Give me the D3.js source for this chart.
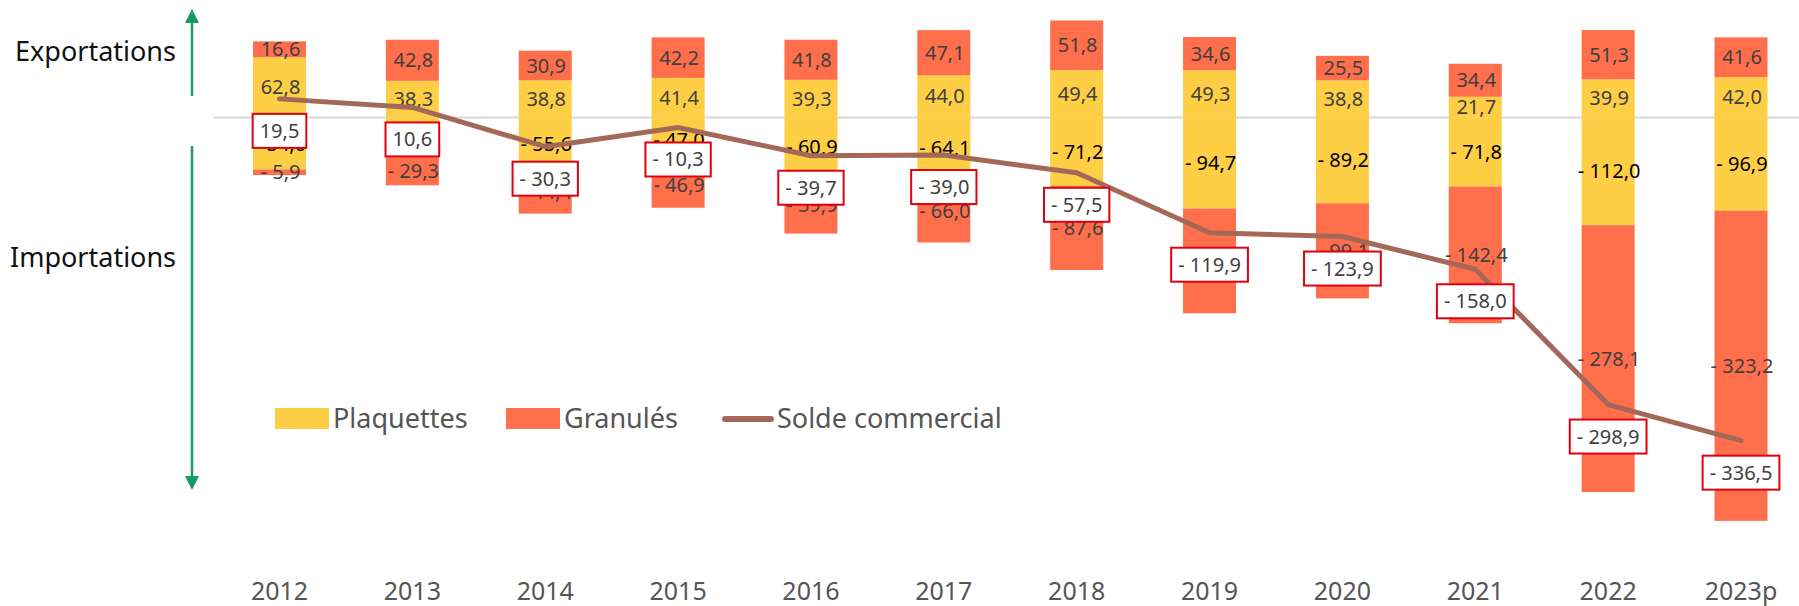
<!DOCTYPE html>
<html>
<head>
<meta charset="utf-8">
<script src="https://cdn.jsdelivr.net/npm/d3@7"></script>
<style>
  body { margin: 0; background: #fff; }
  svg { display: block; font-family: "Noto Sans", sans-serif; }
</style>
</head>
<body>
<script>
var years = ["2012", "2013", "2014", "2015", "2016", "2017", "2018", "2019", "2020", "2021", "2022", "2023p"];
var plaquettesExp = [62.8, 38.3, 38.8, 41.4, 39.3, 44.0, 49.4, 49.3, 38.8, 21.7, 39.9, 42.0];
var granulesExp = [16.6, 42.8, 30.9, 42.2, 41.8, 47.1, 51.8, 34.6, 25.5, 34.4, 51.3, 41.6];
var plaquettesImp = [-54.0, -41.2, -55.6, -47.0, -60.9, -64.1, -71.2, -94.7, -89.2, -71.8, -112.0, -96.9];
var granulesImp = [-5.9, -29.3, -44.4, -46.9, -59.9, -66.0, -87.6, -109.1, -99.1, -142.4, -278.1, -323.2];
var solde = [19.5, 10.6, -30.3, -10.3, -39.7, -39.0, -57.5, -119.9, -123.9, -158.0, -298.9, -336.5];

var width = 1799, height = 606;
var colPlaq = "#fecf44", colGran = "#ff6f4c", colLine = "#a46859", green = "#169b62";

var svg = d3.select("body").append("svg")
    .attr("width", width)
    .attr("height", height);

var x = d3.scalePoint().domain(years).range([279.5, 1741]);
var barW = 53;
var y = d3.scaleLinear().domain([-400, 100]).range([501.6, 21.6]);

var fmt = function(v) {
    var s = d3.format(".1f")(Math.abs(v)).replace(".", ",");
    return v < 0 ? "- " + s : s;
};

// zero line
svg.append("line")
    .attr("x1", 213).attr("x2", width)
    .attr("y1", y(0)).attr("y2", y(0))
    .attr("stroke", "#d9d9d9").attr("stroke-width", 2);

// segments stacked away from zero
var segs = [];
years.forEach(function(yr, i) {
    segs.push({yr: yr, y0: 0, y1: plaquettesExp[i], v: plaquettesExp[i], c: colPlaq, t: "#404040"});
    segs.push({yr: yr, y0: plaquettesExp[i], y1: plaquettesExp[i] + granulesExp[i], v: granulesExp[i], c: colGran, t: "#404040"});
    segs.push({yr: yr, y0: 0, y1: plaquettesImp[i], v: plaquettesImp[i], c: colPlaq, t: "#000"});
    segs.push({yr: yr, y0: plaquettesImp[i], y1: plaquettesImp[i] + granulesImp[i], v: granulesImp[i], c: colGran, t: "#404040"});
});

svg.append("g").selectAll("rect")
    .data(segs)
    .enter().append("rect")
    .attr("x", function(d) { return x(d.yr) - barW / 2; })
    .attr("width", barW)
    .attr("y", function(d) { return y(Math.max(d.y0, d.y1)); })
    .attr("height", function(d) { return Math.abs(y(d.y0) - y(d.y1)); })
    .attr("fill", function(d) { return d.c; });

svg.append("g").selectAll("text")
    .data(segs)
    .enter().append("text")
    .attr("x", function(d) { return x(d.yr) + 1; })
    .attr("y", function(d) { return y((d.y0 + d.y1) / 2); })
    .attr("dy", "0.35em")
    .attr("text-anchor", "middle")
    .attr("font-size", 20)
    .attr("fill", function(d) { return d.t; })
    .text(function(d) { return fmt(d.v); });

// solde line
var line = d3.line()
    .x(function(d, i) { return x(years[i]); })
    .y(function(d) { return y(d); });

svg.append("path")
    .datum(solde)
    .attr("d", line)
    .attr("fill", "none")
    .attr("stroke", colLine)
    .attr("stroke-width", 5)
    .attr("stroke-linecap", "round")
    .attr("stroke-linejoin", "round");

// solde boxes
var boxes = svg.append("g").selectAll("g")
    .data(solde)
    .enter().append("g")
    .attr("transform", function(d, i) { return "translate(" + x(years[i]) + "," + (y(d) + 32) + ")"; });

boxes.append("text")
    .attr("text-anchor", "middle")
    .attr("dy", "0.35em")
    .attr("font-size", 20)
    .attr("fill", "#404040")
    .text(function(d) { return fmt(d); })
    .each(function() {
        var w = this.getComputedTextLength() + 14;
        d3.select(this.parentNode).insert("rect", "text")
            .attr("x", -w / 2).attr("y", -17)
            .attr("width", w).attr("height", 34)
            .attr("fill", "#fff")
            .attr("stroke", "#e1000f")
            .attr("stroke-width", 2);
    });

// x labels
svg.append("g").selectAll("text")
    .data(years)
    .enter().append("text")
    .attr("x", function(d) { return x(d); })
    .attr("y", 600)
    .attr("text-anchor", "middle")
    .attr("font-size", 25)
    .attr("fill", "#555")
    .text(function(d) { return d; });

// left labels and arrows
svg.append("text").attr("x", 15).attr("y", 52).attr("dy", "0.35em")
    .attr("font-size", 27).attr("fill", "#111").text("Exportations");
svg.append("text").attr("x", 10).attr("y", 258).attr("dy", "0.35em")
    .attr("font-size", 27).attr("fill", "#111").text("Importations");

svg.append("line").attr("x1", 192).attr("x2", 192).attr("y1", 20).attr("y2", 96)
    .attr("stroke", green).attr("stroke-width", 2.5);
svg.append("path").attr("d", "M192,9 L185,23 L199,23 Z").attr("fill", green);
svg.append("line").attr("x1", 192).attr("x2", 192).attr("y1", 146).attr("y2", 478)
    .attr("stroke", green).attr("stroke-width", 2.5);
svg.append("path").attr("d", "M192,490 L185,476 L199,476 Z").attr("fill", green);

// legend
var legend = svg.append("g").attr("font-size", 27).attr("fill", "#555");
legend.append("rect").attr("x", 275).attr("y", 408).attr("width", 54).attr("height", 21).attr("fill", colPlaq);
legend.append("text").attr("x", 333).attr("y", 419).attr("dy", "0.35em").text("Plaquettes");
legend.append("rect").attr("x", 506).attr("y", 408).attr("width", 54).attr("height", 21).attr("fill", colGran);
legend.append("text").attr("x", 564).attr("y", 419).attr("dy", "0.35em").text("Granulés");
legend.append("line").attr("x1", 725).attr("x2", 771).attr("y1", 419).attr("y2", 419)
    .attr("stroke", colLine).attr("stroke-width", 6).attr("stroke-linecap", "round");
legend.append("text").attr("x", 777).attr("y", 419).attr("dy", "0.35em").text("Solde commercial");
</script>
</body>
</html>
